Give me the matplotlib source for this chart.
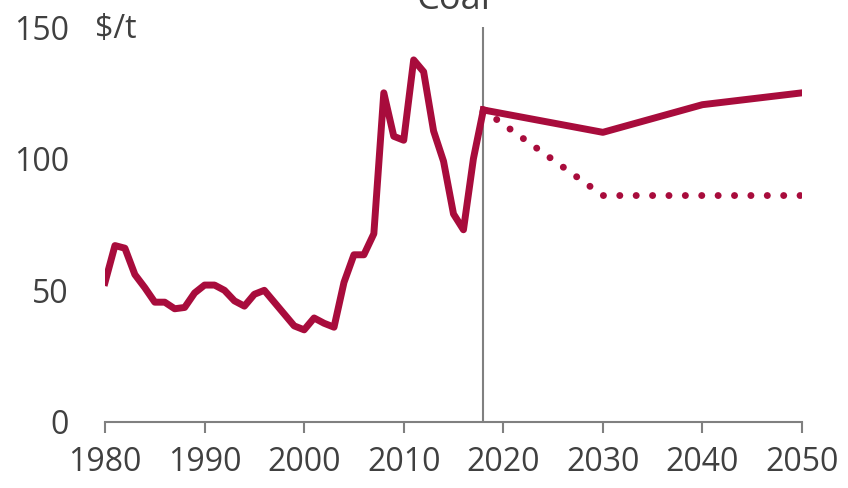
import numpy as np
import matplotlib.pyplot as plt

plt.rcParams['font.family'] = ['Open Sans', 'DejaVu Sans']

red = '#A80C3C'
grey_text = '#404040'

# historical coal price, $/t
hist_years = list(range(1980, 2019))
hist_price = [53, 67, 66, 56, 51, 45.5, 45.5, 43, 43.5, 49,
              52, 52, 50, 46, 44, 48.5, 50, 45.5, 41, 36.5,
              35, 39.5, 37.5, 36, 53, 63.5, 63.5, 71.5, 125, 108.5,
              107, 137.5, 133, 110.5, 99, 79, 73, 100, 118.5]

# scenario paths
proj_years = [2018, 2030, 2040, 2050]
proj_high = [118.5, 110, 120.5, 125]
proj_low = [118.5, 86, 86, 86]

fig = plt.figure(figsize=(8.48, 4.88), dpi=100)
ax = fig.add_axes([105 / 848, 1 - 422 / 488, 697 / 848, 395 / 488])

ax.plot(hist_years, hist_price, color=red, lw=5, solid_joinstyle='round')
ax.plot(proj_years, proj_high, color=red, lw=5, solid_joinstyle='round')
ax.plot(proj_years, proj_low, color=red, lw=5,
        linestyle=(0, (0.01, 2.35)), dash_capstyle='round')

ax.axvline(2018, color='#808080', lw=1.5, zorder=0)

ax.set_xlim(1980, 2050)
ax.set_ylim(0, 150)
ax.set_xticks(range(1980, 2051, 10))
ax.set_yticks([0, 50, 100, 150])

for s in ['top', 'right', 'left']:
    ax.spines[s].set_visible(False)
ax.spines['bottom'].set_color('#808080')
ax.spines['bottom'].set_linewidth(1.5)
ax.tick_params(axis='x', length=8, width=1.5, color='#808080', pad=9,
               labelsize=23, labelcolor=grey_text)
ax.tick_params(axis='y', length=0, pad=26, labelsize=23, labelcolor=grey_text)

fig.text(95 / 848, 1 - 30 / 488, '$/t', va='center', ha='left',
         fontsize=23, color=grey_text)
ax.text(0.5, 1.045, 'Coal', transform=ax.transAxes, ha='center',
        va='baseline', fontsize=26, color=grey_text)

fig.savefig('out.png', dpi=100)
